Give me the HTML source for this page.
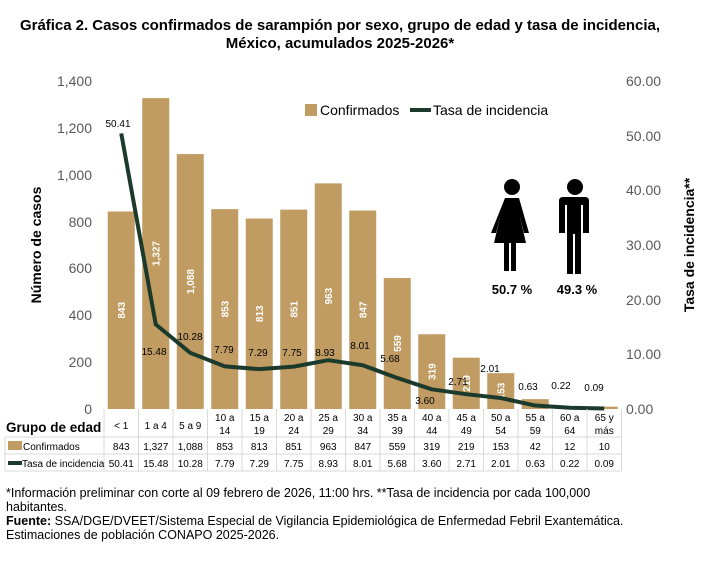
<!DOCTYPE html>
<html><head><meta charset="utf-8"><style>
body{margin:0;width:707px;height:557px;background:#fff;font-family:"Liberation Sans",sans-serif;overflow:hidden}
</style></head><body>
<svg width="707" height="557" xmlns="http://www.w3.org/2000/svg" font-family="Liberation Sans, sans-serif">
<text x="340" y="30" text-anchor="middle" font-size="15" font-weight="bold" fill="#000" textLength="640">Gráfica 2. Casos confirmados  de sarampión por sexo, grupo de edad y tasa de incidencia,</text>
<text x="340" y="48" text-anchor="middle" font-size="15" font-weight="bold" fill="#000">México, acumulados 2025-2026*</text>
<g font-size="14" fill="#595959">
<text x="92" y="86" text-anchor="end">1,400</text>
<text x="92" y="133" text-anchor="end">1,200</text>
<text x="92" y="180" text-anchor="end">1,000</text>
<text x="92" y="227" text-anchor="end">800</text>
<text x="92" y="273" text-anchor="end">600</text>
<text x="92" y="320" text-anchor="end">400</text>
<text x="92" y="367" text-anchor="end">200</text>
<text x="92" y="414" text-anchor="end">0</text>
<text x="626" y="86">60.00</text>
<text x="626" y="141">50.00</text>
<text x="626" y="195">40.00</text>
<text x="626" y="250">30.00</text>
<text x="626" y="305">20.00</text>
<text x="626" y="359">10.00</text>
<text x="626" y="414">0.00</text>
</g>
<text transform="translate(41,245) rotate(-90)" text-anchor="middle" font-size="14" font-weight="bold">Número de casos</text>
<text transform="translate(694,245) rotate(-90)" text-anchor="middle" font-size="14" font-weight="bold">Tasa de incidencia**</text>
<g fill="#C09B62" id="bars"></g>
<g id="barlab" fill="#fff" font-size="10" font-weight="bold"></g>
<polyline id="ln" fill="none" stroke="#1C3A2C" stroke-width="4" stroke-linejoin="round"/>
<g id="rl" font-size="10" fill="#000" text-anchor="middle"></g>
<rect x="305" y="104" width="12" height="12" fill="#C09B62"/>
<text x="320" y="115" font-size="14">Confirmados</text>
<line x1="410" y1="110" x2="431" y2="110" stroke="#1C3A2C" stroke-width="4"/>
<text x="433" y="115" font-size="14">Tasa de incidencia</text>
<g fill="#000">
<circle cx="512" cy="187" r="8"/>
<path d="M505 198 h14 l10 35 h-5 l-5 -20 l7 30 h-10 v28 h-5 v-28 h-2 v28 h-5 v-28 h-10 l7 -30 l-5 20 h-5z"/>
<circle cx="575" cy="187" r="8"/>
<path d="M565 197 h20 q4 0 4 4 v32 h-6 v-28 h-2 v69 h-6 v-40 h-2 v40 h-6 v-69 h-2 v28 h-6 v-32 q0 -4 4 -4z"/>
</g>
<text x="512" y="294" text-anchor="middle" font-size="13" font-weight="bold">50.7 %</text>
<text x="577" y="294" text-anchor="middle" font-size="13" font-weight="bold">49.3 %</text>
<g id="tbl" font-size="10" text-anchor="middle" fill="#000"></g>
<text x="6" y="432" font-size="13.5" font-weight="bold">Grupo de edad</text>
<rect x="8" y="441" width="14" height="9" fill="#C09B62"/>
<text x="23" y="450" font-size="10">Confirmados</text>
<line x1="8" y1="463" x2="22" y2="463" stroke="#1C3A2C" stroke-width="4"/>
<text x="22" y="467" font-size="10">Tasa de incidencia</text>
<g font-size="12.5" fill="#000">
<text x="6" y="497">*Información preliminar con corte al 09 febrero de 2026, 11:00 hrs. **Tasa de incidencia por cada 100,000</text>
<text x="6" y="511">habitantes.</text>
<text x="6" y="525"><tspan font-weight="bold">Fuente:</tspan> SSA/DGE/DVEET/Sistema Especial de Vigilancia Epidemiológica de Enfermedad Febril Exantemática.</text>
<text x="6" y="539">Estimaciones de población CONAPO 2025-2026.</text>
</g>
</svg>
<script>
const ns="http://www.w3.org/2000/svg";
const cases=[843,1327,1088,853,813,851,963,847,559,319,219,153,42,12,10];
const caseL=["843","1,327","1,088","853","813","851","963","847","559","319","219","153","42","12","10"];
const rate=[50.41,15.48,10.28,7.79,7.29,7.75,8.93,8.01,5.68,3.60,2.71,2.01,0.63,0.22,0.09];
const grp=[["< 1"],["1 a 4"],["5 a 9"],["10 a","14"],["15 a","19"],["20 a","24"],["25 a","29"],["30 a","34"],["35 a","39"],["40 a","44"],["45 a","49"],["50 a","54"],["55 a","59"],["60 a","64"],["65 y","más"]];
const rpos=[[118,127],[154,355],[190,340],[224,353],[258,356],[292,356],[325,356],[360,349],[390,362],[425,404],[458,385],[490,372],[528,390],[561,389],[594,391]];
const x0=104,w=34.5,y0=409;
function el(t,a,p,txt){const e=document.createElementNS(ns,t);for(const k in a)e.setAttribute(k,a[k]);if(txt!=null)e.textContent=txt;document.getElementById(p).appendChild(e);return e;}
let pts=[];
for(let i=0;i<15;i++){
 const cx=x0+w*(i+0.5);const h=cases[i]/1400*328;
 el("rect",{x:cx-13.5,y:y0-h,width:27,height:h},"bars");
 if(cases[i]>100) el("text",{transform:`translate(${cx+3.5},${y0-h/2}) rotate(-90)`,"text-anchor":"middle"},"barlab",caseL[i]);
 pts.push(cx+","+(y0-rate[i]/60*328));
 el("text",{x:rpos[i][0],y:rpos[i][1]},"rl",rate[i].toFixed(2));
 const g=grp[i];
 if(g.length==1) el("text",{x:cx,y:429},"tbl",g[0]); else {el("text",{x:cx,y:421},"tbl",g[0]);el("text",{x:cx,y:434},"tbl",g[1]);}
 el("text",{x:cx,y:450},"tbl",caseL[i]);
 el("text",{x:cx,y:467},"tbl",rate[i].toFixed(2));
}
document.getElementById("ln").setAttribute("points",pts.join(" "));
const L="#d9d9d9";
for(let i=0;i<=15;i++) el("line",{x1:x0+w*i,y1:409,x2:x0+w*i,y2:471,stroke:L},"tbl");
[437,454,471].forEach(y=>el("line",{x1:5,y1:y,x2:x0+w*15,y2:y,stroke:L},"tbl"));
el("line",{x1:5,y1:437,x2:5,y2:471,stroke:L},"tbl");
</script>
</body></html>
